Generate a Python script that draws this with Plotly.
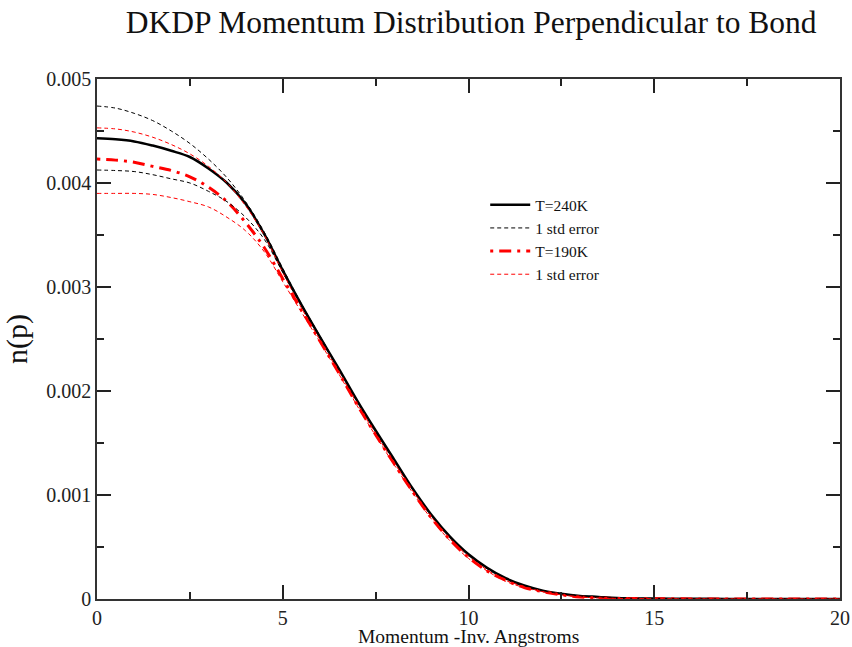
import plotly.graph_objects as go

# momentum grid (inverse Angstroms)
p = [0, 0.5, 1, 1.5, 2, 2.5, 3, 3.5, 4, 4.5, 5, 5.5, 6, 6.5, 7, 7.5, 8, 8.5, 9, 9.5,
     10, 10.5, 11, 11.5, 12, 12.5, 13, 13.5, 14, 15, 16, 17, 18, 19, 20]

n_240 = [0.00443, 0.00442, 0.00440, 0.00436, 0.00431, 0.00425, 0.00414, 0.00400, 0.00380, 0.00351,
         0.00316, 0.00283, 0.00252, 0.00222, 0.00191, 0.00162, 0.00134, 0.00106, 0.00081, 0.00060,
         0.00043, 0.00030, 0.00020, 0.00013, 0.00008, 0.00005, 0.00003, 0.00002, 0.00001, 0.000005,
         0.000002, 0.000001, 0.0, 0.0, 0.0]
n_240_hi = [0.00474, 0.00472, 0.00467, 0.00460, 0.00450, 0.00438, 0.00423, 0.00405, 0.00382, 0.00353,
            0.00318, 0.00284, 0.00253, 0.00222, 0.00191, 0.00161, 0.00133, 0.00105, 0.00080, 0.00059,
            0.00042, 0.00029, 0.00019, 0.00012, 0.00008, 0.00005, 0.00003, 0.00002, 0.00001, 0.000005,
            0.000002, 0.000001, 0.0, 0.0, 0.0]
n_240_lo = [0.004125, 0.00412, 0.00411, 0.00408, 0.00404, 0.00400, 0.00392, 0.00382, 0.00367, 0.00346,
            0.00314, 0.00282, 0.00251, 0.00221, 0.00190, 0.00161, 0.00133, 0.00106, 0.00081, 0.00060,
            0.00043, 0.00030, 0.00020, 0.00013, 0.00008, 0.00005, 0.00003, 0.00002, 0.00001, 0.000005,
            0.000002, 0.000001, 0.0, 0.0, 0.0]
n_190 = [0.00423, 0.00422, 0.00420, 0.00416, 0.00412, 0.00406, 0.00396, 0.00382, 0.00362, 0.00338,
         0.00308, 0.00278, 0.00248, 0.00218, 0.00187, 0.00158, 0.00130, 0.00103, 0.00078, 0.00057,
         0.00040, 0.00027, 0.00018, 0.00011, 0.00007, 0.00004, 0.00002, 0.00001, 0.000006, 0.000003,
         0.000001, 0.0, 0.0, 0.0, 0.0]
n_190_hi = [0.00453, 0.00452, 0.00449, 0.00444, 0.00437, 0.00428, 0.00416, 0.00400, 0.00378, 0.00350,
            0.00314, 0.00280, 0.00249, 0.00219, 0.00188, 0.00159, 0.00131, 0.00104, 0.00079, 0.00058,
            0.00041, 0.00028, 0.00018, 0.00012, 0.00007, 0.00004, 0.00002, 0.00001, 0.000006, 0.000003,
            0.000001, 0.0, 0.0, 0.0, 0.0]
n_190_lo = [0.00390, 0.00390, 0.00390, 0.00389, 0.00386, 0.00382, 0.00377, 0.00367, 0.00354, 0.00334,
            0.00305, 0.00276, 0.00247, 0.00217, 0.00186, 0.00157, 0.00129, 0.00102, 0.00077, 0.00056,
            0.00039, 0.00027, 0.00017, 0.00011, 0.00007, 0.00004, 0.00002, 0.00001, 0.000006, 0.000003,
            0.000001, 0.0, 0.0, 0.0, 0.0]

labels = ["T=240K", "1 std error", "T=190K", "1 std error"]
x_ticks = [0, 5, 10, 15, 20]
y_ticks = [0, 0.001, 0.002, 0.003, 0.004, 0.005]
y_ticktext = ["0", "0.001", "0.002", "0.003", "0.004", "0.005"]

SERIF = "Liberation Serif, Times New Roman, serif"
RED = "#ff0000"
DASH = "4px,3px"

fig = go.Figure()
fig.add_trace(go.Scatter(x=p, y=n_240, mode="lines", name=labels[0],
                         line=dict(color="black", width=2.5, shape="spline")))
fig.add_trace(go.Scatter(x=p, y=n_240_hi, mode="lines", name=labels[1],
                         line=dict(color="black", width=1, dash=DASH, shape="spline")))
fig.add_trace(go.Scatter(x=p, y=n_190, mode="lines", name=labels[2],
                         line=dict(color=RED, width=3, dash="3px,6px,12px,6px", shape="spline")))
fig.add_trace(go.Scatter(x=p, y=n_190_hi, mode="lines", name=labels[3],
                         line=dict(color=RED, width=1, dash=DASH, shape="spline")))
fig.add_trace(go.Scatter(x=p, y=n_240_lo, mode="lines", showlegend=False,
                         line=dict(color="black", width=1, dash=DASH, shape="spline")))
fig.add_trace(go.Scatter(x=p, y=n_190_lo, mode="lines", showlegend=False,
                         line=dict(color=RED, width=1, dash=DASH, shape="spline")))

axis_common = dict(
    showline=True, linecolor="#333333", linewidth=1.5, mirror="ticks",
    ticks="inside", ticklen=14, tickwidth=1.5, tickcolor="#222222",
    showgrid=False, zeroline=False, automargin=False,
    tickfont=dict(family=SERIF, size=20, color="#222222"),
)

fig.update_xaxes(range=[0, 20], tickvals=x_ticks,
                 minor=dict(ticks="inside", ticklen=7, dtick=2.5, tickcolor="#222222", tickwidth=1.5),
                 **axis_common)
fig.update_yaxes(range=[0, 0.005], tickvals=y_ticks, ticktext=y_ticktext,
                 minor=dict(ticks="inside", ticklen=7, dtick=0.0005, tickcolor="#222222", tickwidth=1.5),
                 title=dict(text="n(p)", standoff=10,
                            font=dict(family=SERIF, size=30, color="#111111")),
                 **axis_common)

fig.add_annotation(text="Momentum -Inv. Angstroms", xref="paper", yref="paper",
                   x=0.5, y=-0.0715, xanchor="center", yanchor="middle", showarrow=False,
                   font=dict(family=SERIF, size=19.5, color="#111111"))

fig.update_layout(
    width=852, height=647,
    margin=dict(l=97, r=12, t=79, b=48),
    paper_bgcolor="white", plot_bgcolor="white",
    title=dict(text="DKDP Momentum Distribution Perpendicular to Bond",
               x=0.553, xanchor="center", y=0.966, yanchor="middle",
               font=dict(family=SERIF, size=31.5, color="#111111")),
    legend=dict(x=0.5225, y=0.79, xanchor="left", yanchor="top",
                bgcolor="rgba(0,0,0,0)", borderwidth=0,
                font=dict(family=SERIF, size=15.5, color="#111111"),
                tracegroupgap=0, itemwidth=40),
    showlegend=True,
)

fig.write_html("out.html", config={"displayModeBar": False},
               post_script="document.body.style.margin='0';document.body.style.overflow='hidden';")
